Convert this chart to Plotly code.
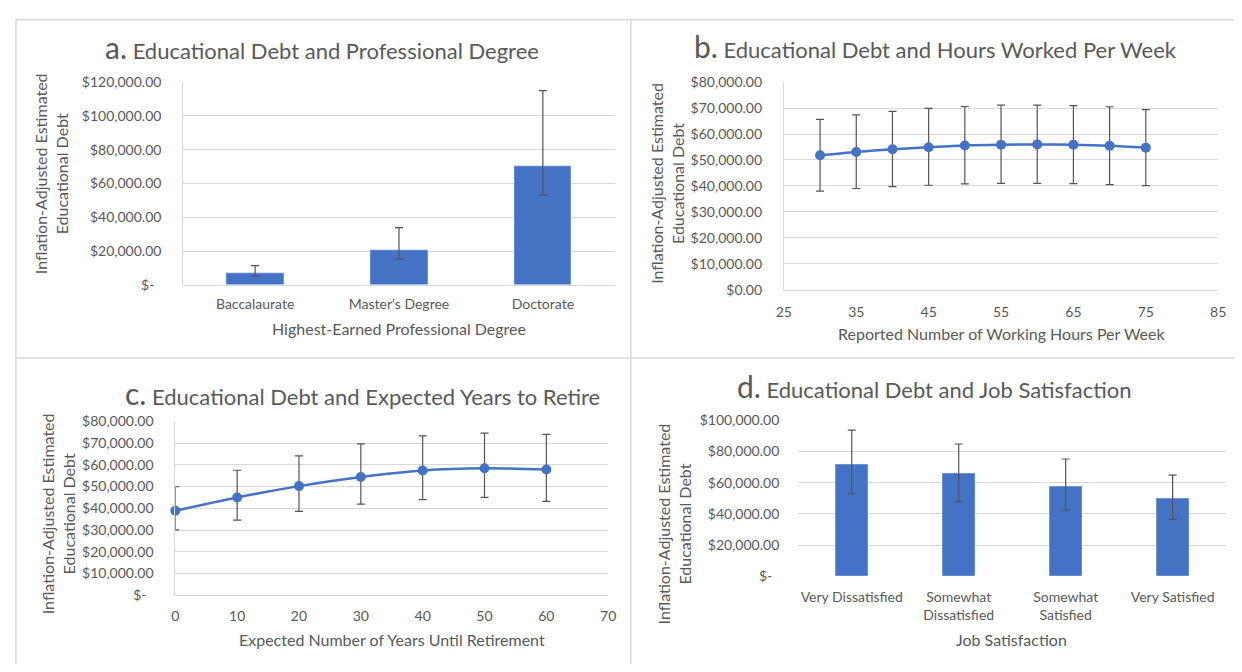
import plotly.graph_objects as go

# ---------------- data ----------------
# Panel a
degree_cats = ["Baccalaurate", "Master's Degree", "Doctorate"]
degree_debt = [6700, 20400, 70300]
degree_hi = [11400, 33900, 115000]
degree_lo = [5200, 15400, 53200]

# Panel b
hours = [30, 35, 40, 45, 50, 55, 60, 65, 70, 75]
hours_debt = [51800, 53100, 54100, 54900, 55600, 55900, 56000, 55900, 55500, 54750]
hours_hi = [65600, 67400, 68750, 69900, 70600, 71100, 71100, 70900, 70500, 69400]
hours_lo = [38000, 39000, 39750, 40250, 40750, 41000, 41000, 40900, 40500, 40100]

# Panel c
years = [0, 10, 20, 30, 40, 50, 60]
years_debt = [38900, 45000, 50200, 54400, 57400, 58400, 57800]
years_hi = [49900, 57500, 64100, 69600, 73300, 74600, 74000]
years_lo = [30100, 34600, 38600, 41900, 44000, 45000, 43200]

# Panel d
sat_cats = ["Very Dissatisfied", "Somewhat<br>Dissatisfied", "Somewhat<br>Satisfied", "Very Satisfied"]
sat_debt = [72100, 65800, 57900, 50000]
sat_hi = [93750, 84800, 75200, 64800]
sat_lo = [52900, 47900, 42500, 36500]

# tick labels
DASH = "$-\u2002"
a_tickvals = [0, 20000, 40000, 60000, 80000, 100000, 120000]
a_ticktext = [DASH, "$20,000.00", "$40,000.00", "$60,000.00", "$80,000.00", "$100,000.00", "$120,000.00"]
b_tickvals = [0, 10000, 20000, 30000, 40000, 50000, 60000, 70000, 80000]
b_ticktext = ["$0.00", "$10,000.00", "$20,000.00", "$30,000.00", "$40,000.00", "$50,000.00",
              "$60,000.00", "$70,000.00", "$80,000.00"]
c_tickvals = [0, 10000, 20000, 30000, 40000, 50000, 60000, 70000, 80000]
c_ticktext = [DASH, "$10,000.00", "$20,000.00", "$30,000.00", "$40,000.00", "$50,000.00",
              "$60,000.00", "$70,000.00", "$80,000.00"]
d_tickvals = [0, 20000, 40000, 60000, 80000, 100000]
d_ticktext = [DASH, "$20,000.00", "$40,000.00", "$60,000.00", "$80,000.00", "$100,000.00"]
b_xticks = [25, 35, 45, 55, 65, 75, 85]
c_xticks = [0, 10, 20, 30, 40, 50, 60, 70]

titles = [("a.", "Educational Debt and Professional Degree"),
          ("b.", "Educational Debt and Hours Worked Per Week"),
          ("c.", "Educational Debt and Expected Years to Retire"),
          ("d.", "Educational Debt and Job Satisfaction")]
x_titles = ["Highest-Earned Professional Degree",
            "Reported Number of Working Hours Per Week",
            "Expected Number of Years Until Retirement",
            "Job Satisfaction"]
y_title = "Inflation-Adjusted Estimated<br>Educational Debt"

# ---------------- styling ----------------
W, H = 1242, 672
FONT = "Lato, Carlito, sans-serif"
TXT = "#595959"
GRID = "#d9d9d9"
BLUE = "#4472C4"
ERR = "#555555"


def px(x):
    return x / W


def py(y):
    return 1 - y / H


def err(vals, hi, lo):
    return dict(type="data", symmetric=False,
                array=[h - v for v, h in zip(vals, hi)],
                arrayminus=[v - l for v, l in zip(vals, lo)],
                color=ERR, thickness=1.2, width=4)


fig = go.Figure()

fig.add_trace(go.Bar(x=degree_cats, y=degree_debt, width=0.4, marker_color=BLUE,
                     error_y=err(degree_debt, degree_hi, degree_lo),
                     xaxis="x", yaxis="y", showlegend=False))
fig.add_trace(go.Scatter(x=hours, y=hours_debt, mode="lines+markers",
                         line=dict(color=BLUE, width=2.5, shape="spline", smoothing=0.8),
                         marker=dict(color=BLUE, size=10),
                         error_y=err(hours_debt, hours_hi, hours_lo),
                         xaxis="x2", yaxis="y2", showlegend=False))
fig.add_trace(go.Scatter(x=years, y=years_debt, mode="lines+markers",
                         line=dict(color=BLUE, width=2.5, shape="spline", smoothing=0.8),
                         marker=dict(color=BLUE, size=10), cliponaxis=False,
                         error_y=err(years_debt, years_hi, years_lo),
                         xaxis="x3", yaxis="y3", showlegend=False))
fig.add_trace(go.Bar(x=sat_cats, y=sat_debt, width=0.31, marker_color=BLUE,
                     error_y=err(sat_debt, sat_hi, sat_lo),
                     xaxis="x4", yaxis="y4", showlegend=False))

tickfont = dict(family=FONT, size=14, color=TXT)


def yax(dom, xa, tv, tt, rng, showline=True):
    return dict(domain=[py(dom[1]), py(dom[0])], anchor=xa, range=rng,
                tickvals=tv, ticktext=tt, tickfont=tickfont,
                showgrid=True, gridcolor=GRID, gridwidth=1,
                showline=showline, linecolor=GRID, zeroline=False,
                ticks="", ticklabelstandoff=18, fixedrange=True)


def xax(dom, ya, standoff, **kw):
    d = dict(domain=[px(dom[0]), px(dom[1])], anchor=ya, tickfont=tickfont,
             showgrid=False, showline=True, linecolor=GRID, zeroline=False,
             ticks="", ticklabelstandoff=standoff, fixedrange=True)
    d.update(kw)
    return d


fig.update_layout(
    width=W, height=H, margin=dict(l=0, r=0, t=0, b=0),
    paper_bgcolor="white", plot_bgcolor="white",
    font=dict(family=FONT, color=TXT),
    bargap=0,
    xaxis=xax((177.5, 614.7), "y", 6, type="category"),
    yaxis=yax((75, 283), "x", a_tickvals, a_ticktext, [0, 120000]),
    xaxis2=xax((786, 1226), "y2", 9, range=[25, 85], tickvals=b_xticks),
    yaxis2=yax((75, 288), "x2", b_tickvals, b_ticktext, [0, 80000]),
    xaxis3=xax((169.5, 608), "y3", 8, range=[0, 70], tickvals=c_xticks),
    yaxis3=yax((423, 601.5), "x3", c_tickvals, c_ticktext, [0, 80000]),
    xaxis4=xax((800.6, 1234), "y4", 11, type="category", showline=False),
    yaxis4=yax((422, 582), "x4", d_tickvals, d_ticktext, [0, 100000], showline=False),
)

# panel frames
frames = [(8, 11, 1242, 11), (8, 11, 8, 672), (631, 11, 631, 672), (8, 358, 1242, 358)]
for x0, y0, x1, y1 in frames:
    fig.add_shape(type="line", xref="paper", yref="paper",
                  x0=px(x0), y0=py(y0), x1=px(x1), y1=py(y1),
                  line=dict(color=GRID, width=1.5))

# titles
title_pos = [(318.5, 39), (940, 38), (359, 394), (938.5, 387)]
for (lbl, t), (tx, ty) in zip(titles, title_pos):
    fig.add_annotation(xref="paper", yref="paper", x=px(tx), y=py(ty),
                       text=f"<span style='font-size:30px'>{lbl}</span> {t}",
                       showarrow=False, xanchor="center", yanchor="middle",
                       font=dict(family=FONT, size=22, color=TXT))

# x-axis titles
xt_pos = [(396, 328), (1006, 333), (389, 647), (1017, 647)]
for t, (tx, ty) in zip(x_titles, xt_pos):
    fig.add_annotation(xref="paper", yref="paper", x=px(tx), y=py(ty), text=t,
                       showarrow=False, xanchor="center", yanchor="middle",
                       font=dict(family=FONT, size=16, color=TXT))

# y-axis titles
yt_pos = [(43, 169), (668, 179), (51, 518), (674.5, 528)]
for tx, ty in yt_pos:
    fig.add_annotation(xref="paper", yref="paper", x=px(tx), y=py(ty), text=y_title,
                       showarrow=False, xanchor="center", yanchor="middle", textangle=-90,
                       font=dict(family=FONT, size=16, color=TXT))

fig.write_html("out.html")
